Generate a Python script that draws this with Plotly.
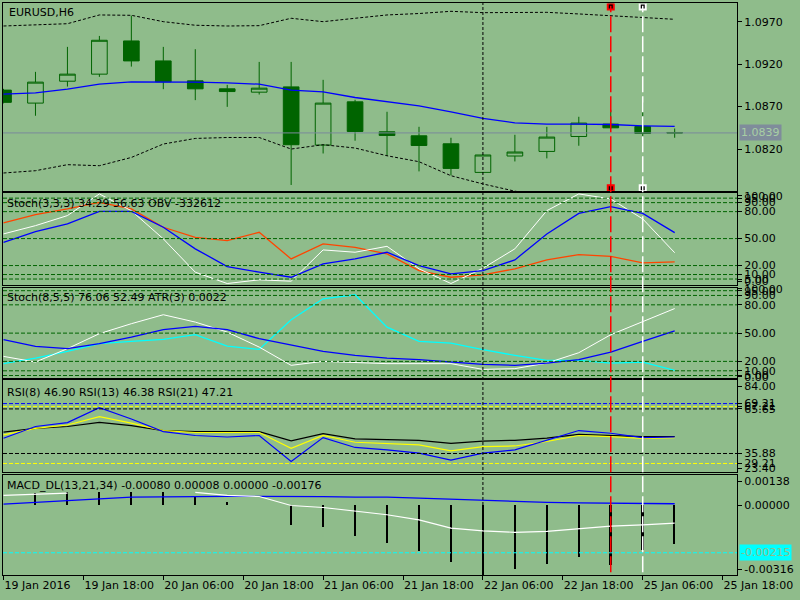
import plotly.graph_objects as go
from plotly.subplots import make_subplots

# Données (barres H6 numérotées de 0 à 21)
bars = list(range(22))
time_ticks = [0, 2.5, 5, 7.5, 10, 12.5, 15, 17.5, 20, 22.5]
time_labels = ["19 Jan 2016", "19 Jan 18:00", "20 Jan 06:00", "20 Jan 18:00", "21 Jan 06:00",
               "21 Jan 18:00", "22 Jan 06:00", "22 Jan 18:00", "25 Jan 06:00", "25 Jan 18:00"]

opens = [1.08894, 1.08741, 1.08999, 1.09082, 1.09473, 1.09238, 1.09003, 1.08909, 1.08870, 1.08932, 1.08247,
         1.08756, 1.08403, 1.08356, 1.08262, 1.07925, 1.08118, 1.08172, 1.08348, 1.08494, 1.08466, 1.08395]
highs = [1.08909, 1.09109, 1.09403, 1.09532, 1.09771, 1.09403, 1.09376, 1.08956, 1.09226, 1.09226, 1.09015,
         1.08780, 1.08639, 1.08462, 1.08333, 1.08135, 1.08368, 1.08462, 1.08580, 1.08662, 1.08748, 1.08442]
lows = [1.08738, 1.08592, 1.08936, 1.09050, 1.09171, 1.08905, 1.08776, 1.08697, 1.08842, 1.07777, 1.08148,
        1.08298, 1.08118, 1.07937, 1.07890, 1.07915, 1.08054, 1.08090, 1.08239, 1.08439, 1.08336, 1.08333]
closes = [1.08750, 1.08988, 1.09082, 1.09481, 1.09238, 1.08991, 1.08909, 1.08877, 1.08917, 1.08251, 1.08741,
          1.08407, 1.08360, 1.08242, 1.07972, 1.08130, 1.08165, 1.08341, 1.08506, 1.08450, 1.08383, 1.08390]

bb_upper = [1.09649, 1.09661, 1.09676, 1.09779, 1.09775, 1.09700, 1.09658, 1.09649, 1.09653, 1.09740, 1.09700,
            1.09740, 1.09779, 1.09796, 1.09822, 1.09806, 1.09808, 1.09810, 1.09791, 1.09767, 1.09747, 1.09728]
bb_lower = [1.07918, 1.07945, 1.08016, 1.08004, 1.08101, 1.08259, 1.08325, 1.08336, 1.08336, 1.08200, 1.08251,
            1.08212, 1.08121, 1.08051, 1.07886, 1.07789, 1.07704, 1.07639, 1.07592, 1.07557, 1.07534, 1.07522]
ma_blue = [1.08847, 1.08862, 1.08905, 1.08964, 1.08991, 1.08991, 1.08988, 1.08979, 1.08964, 1.08894, 1.08874,
           1.08807, 1.08760, 1.08709, 1.08639, 1.08560, 1.08509, 1.08494, 1.08494, 1.08489, 1.08474, 1.08466]
bid_price = 1.0839

stoch1_main = [55.2, 64.4, 75.6, 99.7, 81.0, 49.7, 12.6, 0.0, 4.1, 2.6, 37.4, 34.8, 41.4, 16.3, 0.0, 17.0,
               38.6, 81.1, 99.7, 94.1, 71.9, 34.29]
stoch1_signal = [45.9, 57.8, 66.3, 80.3, 80.3, 62.6, 38.6, 18.9, 12.6, 7.0, 21.9, 27.4, 34.8, 20.0, 10.8, 14.4,
                 26.3, 55.2, 78.1, 85.6, 78.1, 56.63]
obv_scaled = [67.4, 76.7, 83.0, 90.3, 83.0, 62.6, 51.4, 47.8, 57.0, 27.4, 44.1, 40.3, 33.0, 14.4, 7.0, 9.7,
              16.3, 26.3, 32.2, 30.3, 23.0, 24.1]

stoch2_main = [25.3, 19.3, 33.5, 49.4, 60.0, 69.5, 61.7, 51.1, 35.2, 15.8, 20.0, 18.6, 17.6, 17.6, 17.6, 11.5,
               12.3, 18.2, 29.2, 48.3, 62.4, 76.06]
stoch2_signal = [43.0, 35.9, 33.5, 38.8, 45.8, 53.6, 57.1, 53.6, 44.1, 37.0, 30.6, 26.4, 23.5, 21.8, 19.3, 16.8,
                 15.8, 18.2, 21.8, 29.9, 41.2, 52.49]
atr_scaled = [17.6, 23.5, 30.6, 38.8, 41.2, 43.3, 48.3, 36.2, 32.7, 64.2, 86.4, 90.7, 56.4, 41.2, 39.4, 32.4,
              26.4, 21.1, 21.1, 18.2, 19.3, 10.5]
stoch_levels = [95, 90, 80, 50, 20, 10, 5]

rsi8 = [46.1, 53.9, 56.5, 66.5, 58.9, 50.5, 47.9, 46.9, 47.9, 30.5, 46.5, 39.9, 38.3, 36.1, 31.4, 36.1,
        38.3, 44.9, 51.2, 49.4, 46.5, 46.90]
rsi13 = [48.3, 52.7, 54.9, 60.5, 56.1, 51.2, 49.9, 49.9, 49.9, 39.4, 47.9, 43.4, 42.3, 41.6, 37.6, 40.5,
         40.9, 43.9, 47.9, 47.2, 45.9, 46.38]
rsi21 = [50.1, 52.7, 53.9, 56.7, 54.5, 51.2, 50.5, 50.5, 50.5, 44.3, 49.2, 45.6, 45.4, 44.7, 42.7, 44.1,
         44.7, 46.1, 48.7, 47.9, 47.2, 47.21]
rsi_levels = [69.21, 67.21, 65.65, 35.88, 29.21]
rsi_level_colors = ["#0000FF", "#FFFF00", "#000000", "#000000", "#FFFF00"]

macd_main = [0.00046, 0.00052, 0.00056, None, None, None, 0.00060, 0.00046, 0.00041, 0.00000, -0.00009,
             -0.00027, -0.00042, -0.00065, -0.00103, -0.00115, -0.00122, -0.00118, -0.00106, -0.00094,
             -0.00088, -0.00080]
macd_signal = [0.00006, 0.00015, 0.00023, 0.00030, 0.00038, 0.00040, 0.00042, 0.00042, 0.00042, 0.00042,
               0.00040, 0.00038, 0.00038, 0.00034, 0.00029, 0.00023, 0.00019, 0.00014, 0.00012, 0.00011,
               0.00011, 0.00008]
macd_hist = [None, 0.00056, 0.00060, 0.00060, 0.00060, 0.00060, 0.00041, 0.00015, 0.0, -0.00088, -0.00098,
             -0.00138, -0.00171, -0.00206, -0.00258, -0.00316, -0.00289, -0.00269, -0.00236, -0.00270,
             -0.00201, -0.00176]
macd_level = -0.00215

# objets verticaux (index de barre)
vline_black = 15
vline_red = 19
vline_white = 20

BG = "#8FBC8B"
DKGREEN = "#006400"
FONT = "DejaVu Sans"

main_range = [1.07704, 1.09914]
stoch1_range = [-1.1, 101.1]
stoch2_range = [2.0, 98.4]
rsi_range = [23.4, 84.73]
macd_range = [-0.00316, 0.00138]

fig = make_subplots(rows=5, cols=1, shared_xaxes=True, vertical_spacing=0)

# Fenêtre principale
fig.add_trace(go.Scatter(x=bars, y=bb_upper, mode="lines", line=dict(color="black", width=1, dash="3px,2px")), 1, 1)
fig.add_trace(go.Scatter(x=bars, y=bb_lower, mode="lines", line=dict(color="black", width=1, dash="3px,2px")), 1, 1)
fig.add_trace(go.Candlestick(x=bars, open=opens, high=highs, low=lows, close=closes, whiskerwidth=0,
                             increasing=dict(line=dict(color=DKGREEN, width=1), fillcolor=BG),
                             decreasing=dict(line=dict(color=DKGREEN, width=1), fillcolor=DKGREEN)), 1, 1)
fig.add_trace(go.Scatter(x=bars, y=ma_blue, mode="lines", line=dict(color="#0000FF", width=1.3)), 1, 1)

# Stoch(3,3,3) + OBV
fig.add_trace(go.Scatter(x=bars, y=obv_scaled, mode="lines", line=dict(color="#FF4500", width=1.3)), 2, 1)
fig.add_trace(go.Scatter(x=bars, y=stoch1_main, mode="lines", line=dict(color="white", width=1)), 2, 1)
fig.add_trace(go.Scatter(x=bars, y=stoch1_signal, mode="lines", line=dict(color="#0000FF", width=1.3)), 2, 1)

# Stoch(8,5,5) + ATR
fig.add_trace(go.Scatter(x=bars, y=atr_scaled, mode="lines", line=dict(color="#00FFFF", width=1.3)), 3, 1)
fig.add_trace(go.Scatter(x=bars, y=stoch2_main, mode="lines", line=dict(color="white", width=1)), 3, 1)
fig.add_trace(go.Scatter(x=bars, y=stoch2_signal, mode="lines", line=dict(color="#0000FF", width=1.3)), 3, 1)

# RSI
fig.add_trace(go.Scatter(x=bars, y=rsi21, mode="lines", line=dict(color="black", width=1.2)), 4, 1)
fig.add_trace(go.Scatter(x=bars, y=rsi13, mode="lines", line=dict(color="#FFFF00", width=1.2)), 4, 1)
fig.add_trace(go.Scatter(x=bars, y=rsi8, mode="lines", line=dict(color="#0000FF", width=1.2)), 4, 1)

# MACD
fig.add_trace(go.Bar(x=bars, y=macd_hist, width=0.05, marker=dict(color="black", line=dict(width=0))), 5, 1)
fig.add_trace(go.Scatter(x=bars, y=macd_signal, mode="lines", line=dict(color="#0000FF", width=1.3)), 5, 1)
fig.add_trace(go.Scatter(x=bars, y=macd_main, mode="lines", connectgaps=False,
                         line=dict(color="white", width=1.2)), 5, 1)

# niveaux horizontaux
for n in (2, 3):
    for lv in stoch_levels:
        fig.add_shape(type="line", xref=f"x{n} domain", x0=0, x1=1, yref=f"y{n}", y0=lv, y1=lv,
                      line=dict(color=DKGREEN, width=1, dash="4px,2px"))
for lv, col in zip(rsi_levels, rsi_level_colors):
    fig.add_shape(type="line", xref="x4 domain", x0=0, x1=1, yref="y4", y0=lv, y1=lv,
                  line=dict(color=col, width=1, dash="4px,2px"))
fig.add_shape(type="line", xref="x5 domain", x0=0, x1=1, yref="y5", y0=macd_level, y1=macd_level,
              line=dict(color="#00FFFF", width=1, dash="4px,2px"))
fig.add_shape(type="line", xref="x domain", x0=0, x1=1, yref="y", y0=bid_price, y1=bid_price,
              line=dict(color="#7A8A9A", width=1))

# lignes verticales
fig.add_shape(type="line", xref="x5", x0=vline_black, x1=vline_black, yref="paper", y0=0, y1=1,
              line=dict(color="black", width=1, dash="3px,2px"))
for pos, col in ((vline_red, "#FF0000"), (vline_white, "white")):
    fig.add_shape(type="line", xref="x5", x0=pos, x1=pos, yref="paper", y0=0.005, y1=0.995,
                  line=dict(color=col, width=1.5, dash="16px,4px"))
    pad = (main_range[1] - main_range[0]) * 0.016
    fig.add_trace(go.Scatter(x=[pos, pos], y=[main_range[1] - pad, main_range[0] + pad], mode="markers",
                             marker=dict(symbol="square", size=6, color="black", line=dict(color=col, width=2))),
                  1, 1)

axis_font = dict(family=FONT, size=11, color="black")
common_y = dict(side="right", showgrid=False, zeroline=False, showline=True, linecolor="black", linewidth=1,
                mirror=True, ticks="outside", ticklen=4, tickcolor="black", tickfont=axis_font,
                automargin=False)
common_x = dict(range=[-0.016, 22.95], showgrid=False, zeroline=False, showline=True, linecolor="black",
                linewidth=1, mirror=True, showticklabels=False, ticks="", automargin=False)

H = 573.0
def dom(top_px, bottom_px):
    return [(575 - bottom_px) / H, (575 - top_px) / H]

rsi_px = (rsi_range[1] - rsi_range[0]) / 92.0
macd_px = (macd_range[1] - macd_range[0]) / 100.0

fig.update_layout(
    width=800, height=600, paper_bgcolor=BG, plot_bgcolor=BG, showlegend=False,
    margin=dict(l=2.5, r=62.5, t=2.5, b=25, autoexpand=False),
    font=axis_font, bargap=0,
    xaxis=dict(common_x, rangeslider=dict(visible=False)),
    xaxis2=common_x, xaxis3=common_x, xaxis4=common_x,
    xaxis5=dict(common_x, showticklabels=True, ticks="outside", ticklen=4, tickcolor="black",
                tickvals=time_ticks, ticktext=time_labels, ticklabelposition="outside right",
                tickfont=axis_font),
    yaxis=dict(common_y, domain=dom(2.5, 190.5), range=main_range,
               tickvals=[1.0970, 1.0920, 1.0870, 1.0820], ticktext=["1.0970", "1.0920", "1.0870", "1.0820"]),
    yaxis2=dict(common_y, domain=dom(192, 284), range=stoch1_range,
                tickvals=[97.5] + stoch_levels + [2.5],
                ticktext=["100.00"] + [f"{v:.2f}" for v in stoch_levels] + ["0.00"]),
    yaxis3=dict(common_y, domain=dom(287, 378), range=stoch2_range,
                tickvals=[97.0] + stoch_levels + [3.5],
                ticktext=["100.00"] + [f"{v:.2f}" for v in stoch_levels] + ["0.00"]),
    yaxis4=dict(common_y, domain=dom(380, 472), range=rsi_range,
                tickvals=[rsi_range[1] - 6 * rsi_px] + rsi_levels + [rsi_range[0] + 4 * rsi_px],
                ticktext=["84.00"] + [f"{v:.2f}" for v in rsi_levels] + ["23.40"]),
    yaxis5=dict(common_y, domain=dom(475, 575), range=macd_range,
                tickvals=[macd_range[1] - 6 * macd_px, 0.0, macd_range[0] + 6 * macd_px],
                ticktext=["0.00138", "0.00000", "-0.00316"]),
)

def px_x(px):
    return (px - 2.5) / 735.0

def px_y(py):
    return (575 - py) / H

titles = [("EURUSD,H6", 7, 12), ("Stoch(3,3,3) 34.29 56.63 OBV -332612", 5, 203),
          ("Stoch(8,5,5) 76.06 52.49 ATR(3) 0.0022", 5, 297),
          ("RSI(8) 46.90 RSI(13) 46.38 RSI(21) 47.21", 5, 392),
          ("MACD_DL(13,21,34) -0.00080 0.00008 0.00000 -0.00176", 5, 485)]
for txt, x, y in titles:
    fig.add_annotation(text=txt, xref="paper", yref="paper", x=px_x(x), y=px_y(y), xanchor="left",
                       yanchor="middle", showarrow=False, font=axis_font)

fig.add_annotation(text=f"{bid_price:.4f}", xref="paper", yref="y", x=px_x(740), y=bid_price,
                   xanchor="left", yanchor="middle", showarrow=False, bgcolor="#7F8C9B", borderpad=1,
                   font=dict(family=FONT, size=11, color="#A8CFA4"))
fig.add_annotation(text=f"{macd_level:.5f}", xref="paper", yref="y5", x=px_x(740), y=macd_level,
                   xanchor="left", yanchor="middle", showarrow=False, bgcolor="#00FFFF", borderpad=1,
                   font=dict(family=FONT, size=11, color=BG))

# la page garde sa marge de 8 px par défaut : on l'enlève pour caler le graphique en haut à gauche
fig.write_html("out.html", config={"displayModeBar": False},
               post_script="document.body.style.margin='0';")
